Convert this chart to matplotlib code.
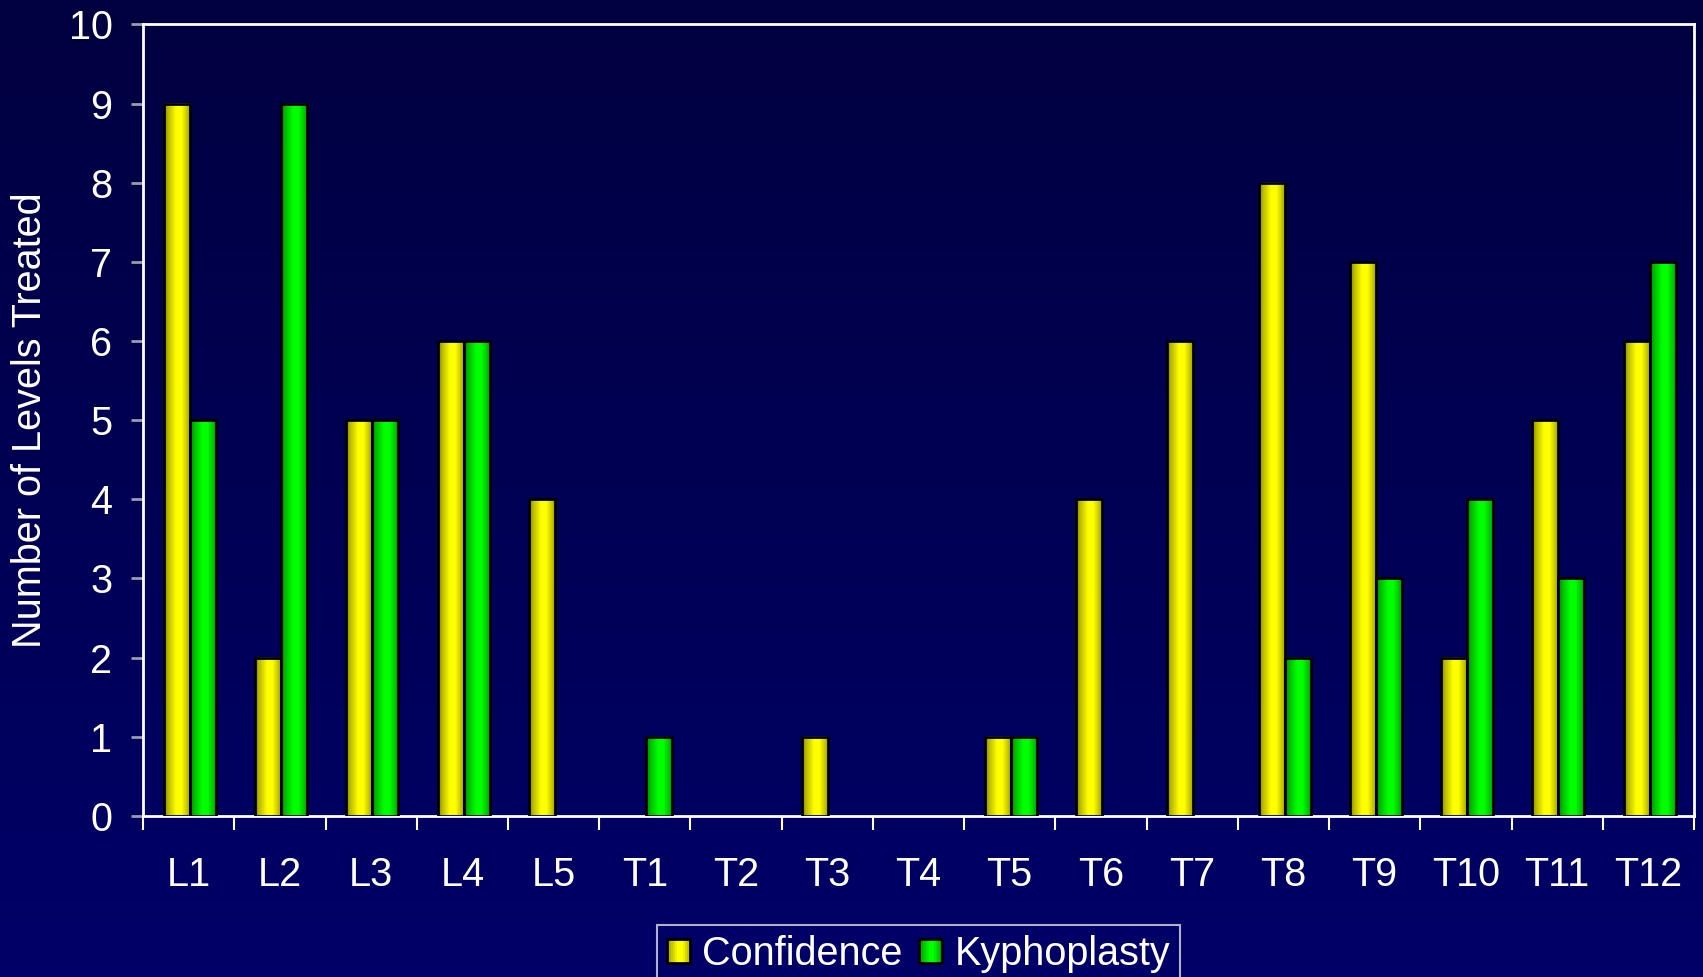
import numpy as np
import matplotlib
matplotlib.use("Agg")
import matplotlib.pyplot as plt
from matplotlib.patches import Rectangle
from matplotlib.legend_handler import HandlerBase
from matplotlib.colors import to_rgb

categories = ["L1", "L2", "L3", "L4", "L5", "T1", "T2", "T3", "T4", "T5",
              "T6", "T7", "T8", "T9", "T10", "T11", "T12"]
confidence = [9, 2, 5, 6, 4, 0, 0, 1, 0, 1, 4, 6, 8, 7, 2, 5, 6]
kyphoplasty = [5, 9, 5, 6, 0, 1, 0, 0, 0, 1, 0, 0, 2, 3, 4, 3, 7]
series_names = ["Confidence", "Kyphoplasty"]
series_colors = ["#FFFF00", "#00FF00"]
yticks = list(range(0, 11))

plt.rcParams['font.family'] = ['Liberation Sans', 'DejaVu Sans']
FS = 28.5

fig = plt.figure(figsize=(17.03, 9.77), dpi=100)

# background gradient
bg = fig.add_axes([0, 0, 1, 1], zorder=-10)
top = np.array([0, 0, 0x40]) / 255
bot = np.array([0, 0, 0x68]) / 255
t = np.linspace(0, 1, 256)[:, None]
grad = top[None, :] * (1 - t) + bot[None, :] * t
bg.imshow(grad[:, None, :].repeat(2, axis=1), aspect='auto', extent=[0, 1, 0, 1], origin='upper')
bg.set_axis_off()

ax = fig.add_axes([0.084, 0.165, 0.9107, 0.81])
ax.set_facecolor('none')

prof_x = np.linspace(0, 1, 64)
profile = np.interp(prof_x, [0, 0.12, 0.45, 0.65, 0.88, 1], [0.45, 0.7, 1.0, 1.0, 0.75, 0.55])


def bar_image(color):
    c = np.array(to_rgb(color))
    return (profile[:, None] * c[None, :])[None, :, :]


bw = 0.285
x = np.arange(len(categories))
for i, (vals, col) in enumerate(zip([confidence, kyphoplasty], series_colors)):
    img = bar_image(col)
    for xi, v in zip(x, vals):
        if v <= 0:
            continue
        x0 = xi + 0.013 - bw + i * bw
        ax.imshow(img, extent=[x0, x0 + bw, 0, v], aspect='auto', zorder=2, interpolation='bilinear')
        ax.add_patch(Rectangle((x0, 0), bw, v, facecolor='none', edgecolor='black', linewidth=2, zorder=3))

ax.set_xlim(-0.5, len(categories) - 0.5)
ax.set_ylim(0, 10)
ax.set_aspect('auto')

for s in ax.spines.values():
    s.set_color('white')
    s.set_linewidth(2)

ax.set_yticks(yticks)
ax.set_yticklabels([str(v) for v in yticks])
ax.tick_params(axis='y', direction='out', length=9, width=2, color='#9a9ab0', pad=13,
               labelsize=FS, labelcolor='white')
ax.set_xticks(x)
ax.set_xticklabels(categories)
ax.tick_params(axis='x', which='major', length=0, pad=29, labelsize=FS, labelcolor='white')
ax.set_xticks(np.arange(-0.5, len(categories), 1), minor=True)
ax.tick_params(axis='x', which='minor', direction='out', length=10, width=1.5, color='white')

ax.set_ylabel("Number of Levels Treated", fontsize=FS, color='white', labelpad=14)


class GradHandler(HandlerBase):
    def __init__(self, color):
        super().__init__()
        self.color = color

    def create_artists(self, legend, orig_handle, xdescent, ydescent, width, height, fontsize, trans):
        arts = []
        n = 12
        c = np.array(to_rgb(self.color))
        side = height * 0.85
        x0 = -xdescent + (width - side) / 2
        y0 = -ydescent + (height - side) / 2
        for k in range(n):
            f = np.interp((k + 0.5) / n, prof_x, profile)
            r = Rectangle((x0 + k * side / n, y0), side / n + 0.3, side, facecolor=c * f,
                          edgecolor='none', transform=trans)
            arts.append(r)
        arts.append(Rectangle((x0, y0), side, side, facecolor='none', edgecolor='black',
                              linewidth=2, transform=trans))
        return arts


h1 = Rectangle((0, 0), 1, 1)
h2 = Rectangle((0, 1), 1, 1)
leg = fig.legend([h1, h2], series_names, loc='upper center', bbox_to_anchor=(0.5393, 0.053),
                 ncol=2, fontsize=FS, frameon=True, fancybox=False,
                 handler_map={h1: GradHandler(series_colors[0]), h2: GradHandler(series_colors[1])},
                 handlelength=0.6, handletextpad=0.3, columnspacing=0.4, borderpad=0.25,
                 borderaxespad=0)
leg.get_frame().set_facecolor('#000066')
leg.get_frame().set_edgecolor('#b0b0c8')
leg.get_frame().set_linewidth(1.5)
leg.get_frame().set_alpha(1)
for txt in leg.get_texts():
    txt.set_color('white')

fig.savefig('out.png', dpi=100)
